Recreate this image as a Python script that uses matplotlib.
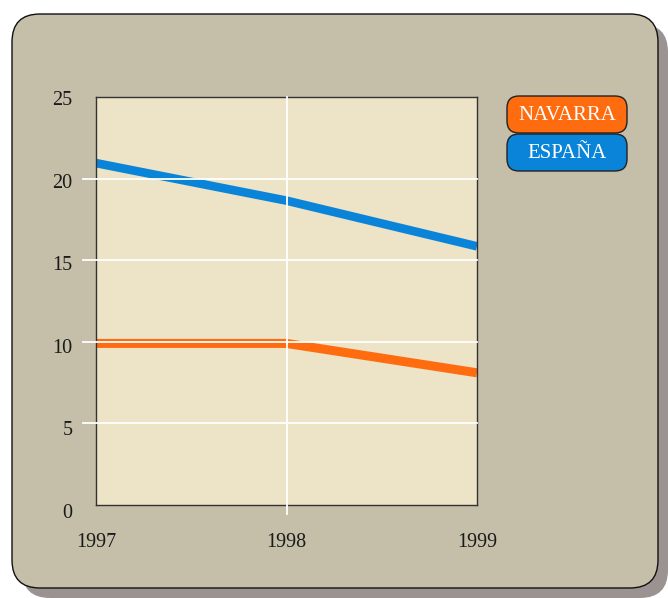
import matplotlib
matplotlib.use("Agg")
import matplotlib.pyplot as plt
import matplotlib.transforms as mtransforms
from matplotlib.patches import FancyBboxPatch

years = [1997, 1998, 1999]
series_names = ["NAVARRA", "ESPAÑA"]
navarra = [9.9, 9.9, 8.1]
espana = [20.95, 18.65, 15.85]
y_ticks = [0, 5, 10, 15, 20, 25]
x_ticks = [1997, 1998, 1999]
colors = ["#FF6C10", "#0A84D8"]

W, H = 668, 598
fig = plt.figure(figsize=(W / 100, H / 100), dpi=100)
fig.patch.set_facecolor("white")

# Background axes in pixel coordinates
bg = fig.add_axes([0, 0, 1, 1])
bg.set_xlim(0, W)
bg.set_ylim(H, 0)
bg.axis("off")
r = 28
shadow = FancyBboxPatch((22 + r, 24 + r), 646 - 2 * r, 574 - 2 * r,
                        boxstyle=f"round,pad={r}", fc="#9B9392", ec="none", zorder=1)
bg.add_patch(shadow)
box = FancyBboxPatch((12 + r, 14 + r), 646 - 2 * r, 574 - 2 * r,
                     boxstyle=f"round,pad={r}", fc="#C5BFA9", ec="#111111", lw=1.0, zorder=2)
bg.add_patch(box)

# Legend boxes
lr = 12
legend_y = [96, 134]
for name, col, ly in zip(series_names, colors, legend_y):
    p = FancyBboxPatch((507 + lr, ly + lr), 120 - 2 * lr, 37 - 2 * lr,
                       boxstyle=f"round,pad={lr}", fc=col, ec="#222222", lw=1.0, zorder=3)
    bg.add_patch(p)
    bg.text(567, ly + 19.5, name, color="white", ha="center", va="center",
            fontsize=15, family="Liberation Serif", zorder=4)

# Plot axes
ax = fig.add_axes([96 / W, 1 - 505 / H, 381 / W, 408 / H])
ax.set_facecolor("#EDE3C6")
ax.set_xlim(1997, 1999)
ax.set_ylim(0, 25)
for s in ax.spines.values():
    s.set_color("#333333")
    s.set_linewidth(1.0)

ax.plot(years, navarra, color=colors[0], lw=6.5, solid_capstyle="butt", zorder=2)
ax.plot(years, espana, color=colors[1], lw=6.2, solid_capstyle="butt", zorder=2)

# grid lines (interior), extended outside the axes
ext_x = 13 / 190.5
ext_y = 9 / 16.32
for yv in y_ticks[1:-1]:
    ax.plot([1997 - ext_x, 1999], [yv, yv], color="white", lw=1.3, zorder=3, clip_on=False)
for xv in x_ticks[1:-1]:
    ax.plot([xv, xv], [-ext_y, 25], color="white", lw=1.3, zorder=3, clip_on=False)

ax.set_xticks(x_ticks)
ax.set_yticks(y_ticks)
ax.set_xticklabels([str(x) for x in x_ticks], family="Liberation Serif", fontsize=14.5, color="#1a1a1a")
ax.set_yticklabels([str(y) for y in y_ticks], family="Liberation Serif", fontsize=14.5, color="#1a1a1a")
ax.tick_params(axis="both", length=0)
ax.tick_params(axis="x", pad=20)
ax.tick_params(axis="y", pad=17)
for v, lab in zip(y_ticks, ax.get_yticklabels()):
    shift_px = 1.0 + 5.0 * (25 - v) / 25
    lab.set_transform(lab.get_transform() +
                      mtransforms.ScaledTranslation(0, -shift_px / 100.0, fig.dpi_scale_trans))

fig.savefig("out.png", dpi=100, facecolor="white")
